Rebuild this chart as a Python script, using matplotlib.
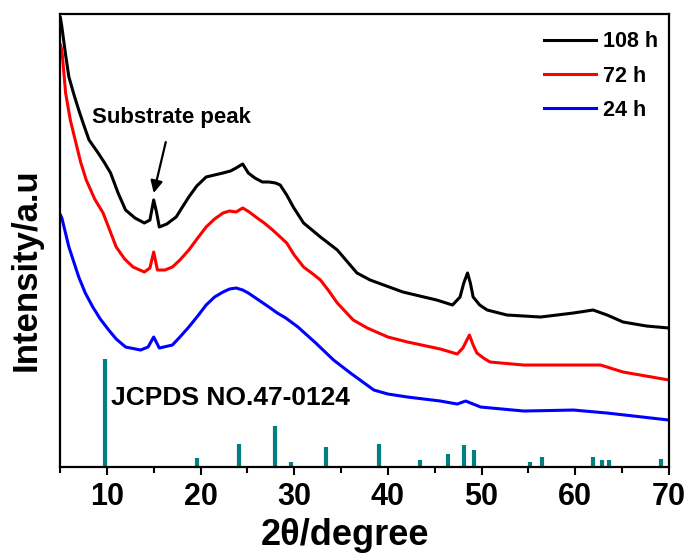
import matplotlib.pyplot as plt
from matplotlib.ticker import MultipleLocator

plt.rcParams['font.family'] = ['Liberation Sans', 'DejaVu Sans']
plt.rcParams['font.weight'] = 'bold'

# 108 h
x_108 = [5.05, 5.2, 5.6, 5.95, 6.5, 7.0, 7.5, 8.1, 9.0, 9.7, 10.4, 11.2, 12.0, 13.0,
         14.0, 14.6, 15.0, 15.3, 15.6, 16.4, 17.4, 18.0, 18.75, 19.6, 20.6, 21.5,
         22.4, 23.2, 23.8, 24.5, 25.1, 25.8, 26.6, 27.3, 28.0, 28.5, 29.2, 29.9,
         31.0, 32.8, 34.6, 36.7, 38.1, 41.6, 45.2, 46.9, 47.7, 48.1, 48.5, 48.8,
         49.1, 49.8, 50.6, 52.7, 56.3, 59.8, 61.9, 63.4, 65.1, 67.6, 70.0]
y_108 = [449, 440, 412, 390, 372, 357, 343, 327, 315, 305, 294, 274, 257, 249,
         244, 247, 267, 255, 240, 243, 250, 259, 270, 281, 290, 292,
         294, 296, 299, 303, 294, 289, 285, 285, 284, 282, 272, 260,
         244, 230, 217, 194, 187, 175, 167, 162, 170, 184, 194, 184,
         170, 162, 157, 152, 150, 154, 157, 152, 145, 141, 139]

# 72 h
x_72 = [5.05, 5.2, 5.6, 6.1, 6.7, 7.2, 7.8, 8.7, 9.6, 10.3, 11.0, 11.9, 12.8, 14.0,
        14.6, 15.0, 15.4, 16.2, 17.0, 17.8, 18.75, 19.7, 20.6, 21.5, 22.4, 23.1,
        23.8, 24.5, 25.2, 25.9, 26.8, 27.7, 29.2, 30.0, 31.0, 32.0, 32.8, 33.7,
        34.6, 35.5, 36.3, 37.8, 40.0, 42.1, 45.6, 47.4, 48.0, 48.7, 49.1, 49.5,
        50.2, 50.9, 54.5, 58.1, 62.7, 65.1, 70.0]
y_72 = [422, 417, 374, 347, 324, 305, 287, 268, 254, 237, 220, 208, 200, 195,
        199, 215, 197, 197, 200, 207, 217, 229, 240, 248, 254, 256,
        255, 259, 255, 250, 244, 237, 224, 212, 200, 193, 187, 176,
        164, 155, 147, 139, 130, 125, 118, 113, 119, 132, 122, 114,
        109, 105, 102, 102, 102, 95, 87]

# 24 h
x_24 = [5.05, 5.2, 5.95, 7.0, 7.7, 8.5, 9.3, 10.2, 11.0, 12.0, 13.6, 14.4, 15.0,
        15.6, 17.0, 17.8, 18.75, 19.7, 20.6, 21.5, 22.4, 23.1, 23.8, 24.5, 25.1,
        26.2, 27.3, 28.2, 29.1, 30.4, 32.3, 34.2, 36.0, 38.5, 40.0, 42.1, 45.6,
        47.4, 48.3, 49.9, 54.5, 59.8, 63.4, 70.0]
y_24 = [252, 249, 220, 190, 174, 160, 148, 137, 128, 120, 117, 120, 130,
        119, 122, 130, 140, 151, 162, 170, 175, 178, 179, 177, 174,
        167, 160, 154, 149, 140, 124, 107, 94, 77, 73, 70, 66,
        63, 66, 60, 56, 57, 54, 47]

# JCPDS 47-0124 reference lines
ref_pos = [9.8, 19.6, 24.1, 27.9, 29.7, 33.4, 39.1, 43.4, 46.4, 48.1, 49.2,
           55.2, 56.5, 61.9, 62.9, 63.6, 69.2]
ref_int = [108, 9, 23, 41, 5, 20, 23, 7, 13, 22, 17, 5, 10, 10, 7, 7, 8]

fig = plt.figure(figsize=(6.92, 5.58), dpi=100)
ax = fig.add_axes([0.0867, 0.163, 0.880, 0.812])

ax.plot(x_108, y_108, color='black', lw=2.2, label='108 h')
ax.plot(x_72, y_72, color='red', lw=2.2, label='72 h')
ax.plot(x_24, y_24, color='blue', lw=2.2, label='24 h')
ax.vlines(ref_pos, 0, ref_int, color='#008080', lw=3)

ax.set_xlim(5, 70)
ax.set_ylim(0, 453)
ax.xaxis.set_major_locator(MultipleLocator(10))
ax.xaxis.set_minor_locator(MultipleLocator(5))
ax.set_yticks([])
ax.tick_params(axis='x', which='major', direction='out', length=6, width=1.5,
               labelsize=22, pad=5)
ax.tick_params(axis='x', which='minor', direction='out', length=4, width=1.5)
for lab in ax.get_xticklabels():
    lab.set_fontweight('bold')
for s in ax.spines.values():
    s.set_linewidth(1.6)

fig.text(0.499, 0.0233, '2θ/degree', fontsize=26, fontweight='bold',
         ha='center', va='baseline')
fig.text(0.038, 0.516, 'Intensity/a.u', fontsize=25, fontweight='bold',
         ha='center', va='center', rotation=90)

ax.annotate('Substrate peak', xy=(15.0, 274), xytext=(16.9, 349),
            fontsize=16, fontweight='bold', ha='center', va='center',
            arrowprops=dict(arrowstyle='-|>', color='black', lw=1.6,
                            mutation_scale=18, shrinkA=8, shrinkB=0))
ax.text(10.4, 69, 'JCPDS NO.47-0124', fontsize=19, fontweight='bold',
        ha='left', va='center')

leg = ax.legend(loc='upper right', bbox_to_anchor=(1.011, 1.0), frameon=False,
                fontsize=15.5, handlelength=2.4, handletextpad=0.35,
                labelspacing=0.62, borderaxespad=0.4)
for t in leg.get_texts():
    t.set_fontweight('bold')

fig.savefig('out.png', dpi=100)
